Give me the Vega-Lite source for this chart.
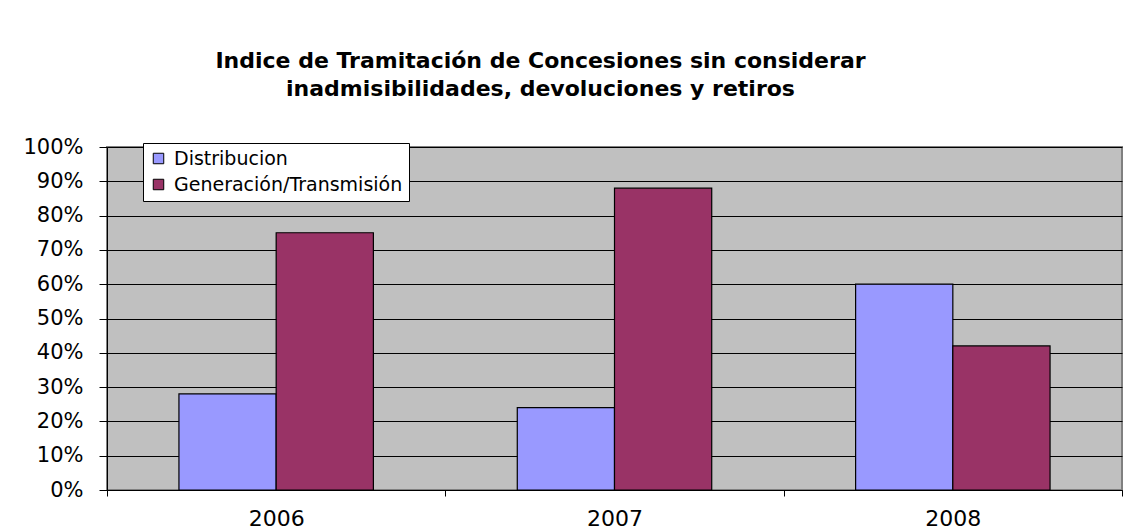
{
  "$schema": "https://vega.github.io/schema/vega-lite/v6.json",
  "width": 1015,
  "height": 343,
  "autosize": {"type": "none"},
  "padding": {"left": 107, "top": 147, "right": 5, "bottom": 41},
  "background": "white",
  "title": {
    "text": ["Indice de Tramitación de Concesiones sin considerar", "inadmisibilidades, devoluciones y retiros"],
    "font": "DejaVu Sans",
    "fontSize": 22,
    "fontWeight": "bold",
    "color": "black",
    "lineHeight": 28,
    "anchor": "middle",
    "dx": -74,
    "offset": 35
  },
  "data": {
    "values": [
      {"year": "2006", "series": "Distribucion", "value": 0.28},
      {"year": "2006", "series": "Generación/Transmisión", "value": 0.75},
      {"year": "2007", "series": "Distribucion", "value": 0.24},
      {"year": "2007", "series": "Generación/Transmisión", "value": 0.88},
      {"year": "2008", "series": "Distribucion", "value": 0.60},
      {"year": "2008", "series": "Generación/Transmisión", "value": 0.42}
    ]
  },
  "mark": {"type": "bar", "stroke": "black", "strokeWidth": 1.2},
  "encoding": {
    "x": {
      "field": "year", "type": "nominal",
      "scale": {"paddingInner": 0, "paddingOuter": 0},
      "axis": {
        "title": null, "labelAngle": 0, "labelFontSize": 22, "labelFont": "DejaVu Sans",
        "labelColor": "black", "labelPadding": 12, "tickBand": "extent", "tickSize": 6,
        "tickColor": "black", "domainColor": "black", "grid": false
      }
    },
    "xOffset": {"field": "series", "type": "nominal", "scale": {"paddingInner": 0, "paddingOuter": 0.74}},
    "y": {
      "field": "value", "type": "quantitative",
      "scale": {"domain": [0, 1], "nice": false},
      "axis": {
        "title": null, "format": ".0%", "values": [0, 0.1, 0.2, 0.3, 0.4, 0.5, 0.6, 0.7, 0.8, 0.9, 1.0],
        "labelFontSize": 21, "labelFont": "DejaVu Sans", "labelColor": "black",
        "labelPadding": 16, "tickSize": 8, "tickColor": "black", "domainColor": "black",
        "grid": true, "gridColor": "black", "gridWidth": 1, "gridOpacity": 1
      }
    },
    "color": {
      "field": "series", "type": "nominal",
      "scale": {"domain": ["Distribucion", "Generación/Transmisión"], "range": ["#9999FF", "#993366"]},
      "legend": {
        "title": null, "orient": "none", "legendX": 36, "legendY": -4,
        "fillColor": "white", "strokeColor": "black", "padding": 6,
        "symbolType": "square", "symbolSize": 110, "symbolStrokeColor": "black", "symbolStrokeWidth": 1,
        "labelFontSize": 19, "labelFont": "DejaVu Sans", "labelColor": "black", "labelLimit": 400,
        "rowPadding": 6, "labelOffset": 6
      }
    }
  },
  "config": {
    "view": {"fill": "#C0C0C0", "stroke": "#808080", "strokeWidth": 2}
  }
}
